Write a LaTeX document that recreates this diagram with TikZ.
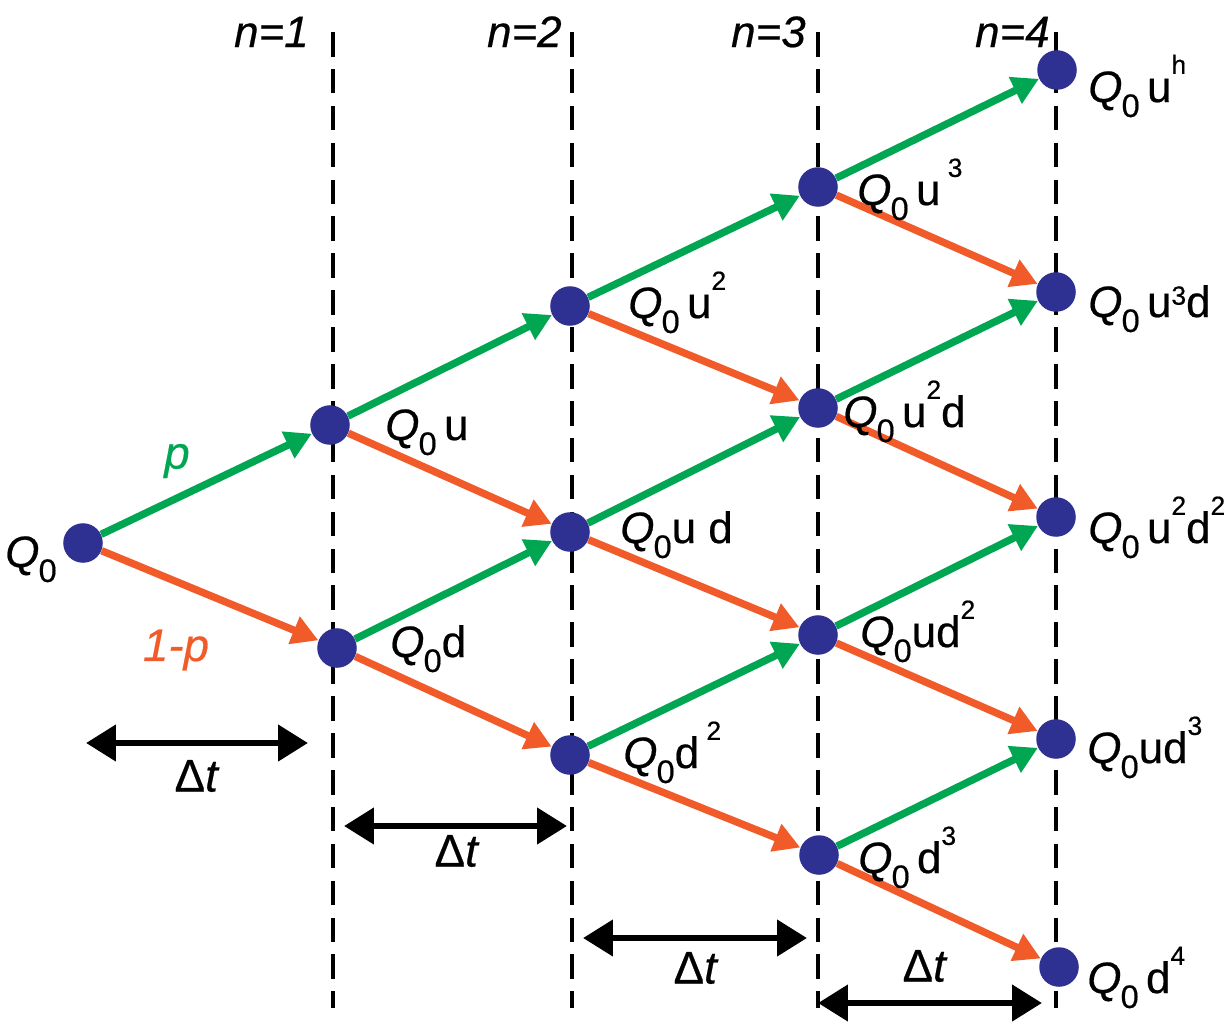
\documentclass[tikz,border=0pt]{standalone}
\usepackage{fontspec}
\setmainfont{Liberation Sans}
\newfontfamily\lblfont[FakeBold=0.5]{Liberation Sans}
\usetikzlibrary{arrows.meta}
\definecolor{tgreen}{HTML}{00A651}
\definecolor{torange}{HTML}{F15A29}
\definecolor{tblue}{HTML}{2E3192}
\pgfdeclarelayer{back}
\pgfsetlayers{back,main}
\newcommand{\Qo}{\textit{Q}\kern-0.5pt\raisebox{-8.5pt}{\fontsize{18.5}{18}\selectfont 0}}
\newcommand{\upx}[2][16pt]{\raisebox{#1}{\fontsize{15}{15}\selectfont #2}}
\tikzset{
  dot/.style={circle, fill=tblue, minimum size=22.5pt, inner sep=0pt},
  upar/.style={draw=tgreen, line width=4.2pt, -{Triangle[length=15pt,width=16pt]}},
  dnar/.style={draw=torange, line width=4.2pt, -{Triangle[length=15pt,width=16pt]}},
  gridline/.style={draw=black, dash pattern=on 14pt off 7pt, line width=2pt},
  dtar/.style={draw=black, line width=3.8pt, {Triangle[length=17pt,width=20pt]}-{Triangle[length=17pt,width=20pt]}},
  lbl/.style={anchor=base west, inner sep=0pt, font=\lblfont\fontsize{25}{28}\selectfont},
  dtlbl/.style={anchor=center, inner sep=0pt, font=\lblfont\fontsize{26}{30}\selectfont},
  nlbl/.style={anchor=base east, inner sep=0pt, font=\lblfont\itshape\fontsize{25}{30}\selectfont},
  plbl/.style={anchor=center, inner sep=0pt, font=\lblfont\itshape\fontsize{26}{30}\selectfont}
}
\begin{document}
\begin{tikzpicture}[x=0.02cm, y=-0.02cm]
\useasboundingbox (0,0) rectangle (1229,1021);
% grid lines
\coordinate (g1t) at (333,32);  \coordinate (g1b) at (333,1008);
\coordinate (g2t) at (572,32);  \coordinate (g2b) at (572,1008);
\coordinate (g3t) at (818,32);  \coordinate (g3b) at (818,1008);
\coordinate (g4t) at (1056,32); \coordinate (g4b) at (1056,1008);
% nodes
\node[dot] (a)  at (83,543) {};
\node[dot] (b1) at (330,425) {};
\node[dot] (b2) at (337,648) {};
\node[dot] (c1) at (570,306) {};
\node[dot] (c2) at (570,532) {};
\node[dot] (c3) at (570,755) {};
\node[dot] (d1) at (818,187) {};
\node[dot] (d2) at (818,408) {};
\node[dot] (d3) at (818,635) {};
\node[dot] (d4) at (819,855) {};
\node[dot] (e1) at (1057,70) {};
\node[dot] (e2) at (1056,292) {};
\node[dot] (e3) at (1056,517) {};
\node[dot] (e4) at (1056,739) {};
\node[dot] (e5) at (1059,967) {};
\begin{pgfonlayer}{back}
\draw[gridline] (g1t) -- (g1b);
\draw[gridline] (g2t) -- (g2b);
\draw[gridline] (g3t) -- (g3b);
\draw[gridline] (g4t) -- (g4b);
\draw[upar] (a) -- (b1);
\draw[upar] (b1) -- (c1);
\draw[upar] (b2) -- (c2);
\draw[upar] (c1) -- (d1);
\draw[upar] (c2) -- (d2);
\draw[upar] (c3) -- (d3);
\draw[upar] (d1) -- (e1);
\draw[upar] (d2) -- (e2);
\draw[upar] (d3) -- (e3);
\draw[upar] (d4) -- (e4);
\draw[dnar] (a) -- (b2);
\draw[dnar] (b1) -- (c2);
\draw[dnar] (b2) -- (c3);
\draw[dnar] (c1) -- (d2);
\draw[dnar] (c2) -- (d3);
\draw[dnar] (c3) -- (d4);
\draw[dnar] (d1) -- (e2);
\draw[dnar] (d2) -- (e3);
\draw[dnar] (d3) -- (e4);
\draw[dnar] (d4) -- (e5);
\end{pgfonlayer}
% labels
\node[lbl] (la)  at (5,567)    {\Qo};
\node[lbl] (lb1) at (385,440)  {\Qo\,u};
\node[lbl] (lb2) at (390,657)  {\Qo d};
\node[lbl] (lc1) at (628,318)  {\Qo\,u\upx{2}};
\node[lbl] (lc2) at (620,543)  {\Qo u\ d};
\node[lbl] (lc3) at (623,768)  {\Qo d\,\upx{2}};
\node[lbl] (ld1) at (857,205)  {\Qo\,u\,\upx{3}};
\node[lbl] (ld2) at (843,427)  {\Qo\,u\upx{2}d};
\node[lbl] (ld3) at (860,647)  {\Qo ud\upx{2}};
\node[lbl] (ld4) at (858,873)  {\Qo\,d\upx{3}};
\node[lbl] (le1) at (1088,102) {\Qo\,u\upx{h}};
\node[lbl] (le2) at (1088,317) {\Qo\,u\upx[7pt]{3}d};
\node[lbl] (le3) at (1088,543) {\Qo\,u\upx{2}d\upx{2}};
\node[lbl] (le4) at (1087,763) {\Qo ud\upx{3}};
\node[lbl] (le5) at (1087,993) {\Qo\,d\upx{4}};
% probabilities
\node[plbl, text=tgreen] (pu) at (177,461) {p};
\node[plbl, text=torange] (pd) at (176,650) {1-p};
% step labels
\node[nlbl] (n1) at (309,47)  {n=1};
\node[nlbl] (n2) at (562,47)  {n=2};
\node[nlbl] (n3) at (806,47)  {n=3};
\node[nlbl] (n4) at (1050,47) {n=4};
% delta t arrows
\coordinate (t1l) at (86,743);  \coordinate (t1r) at (308,743);
\coordinate (t2l) at (344,826); \coordinate (t2r) at (567,826);
\coordinate (t3l) at (583,938); \coordinate (t3r) at (807,938);
\coordinate (t4l) at (818,1003); \coordinate (t4r) at (1042,1003);
\draw[dtar] (t1l) -- (t1r);
\draw[dtar] (t2l) -- (t2r);
\draw[dtar] (t3l) -- (t3r);
\draw[dtar] (t4l) -- (t4r);
\node[dtlbl] (dt1) at (197,776) {Δ\textit{t}};
\node[dtlbl] (dt2) at (457,851) {Δ\textit{t}};
\node[dtlbl] (dt3) at (696,968) {Δ\textit{t}};
\node[dtlbl] (dt4) at (925,966) {Δ\textit{t}};
\end{tikzpicture}
\end{document}
